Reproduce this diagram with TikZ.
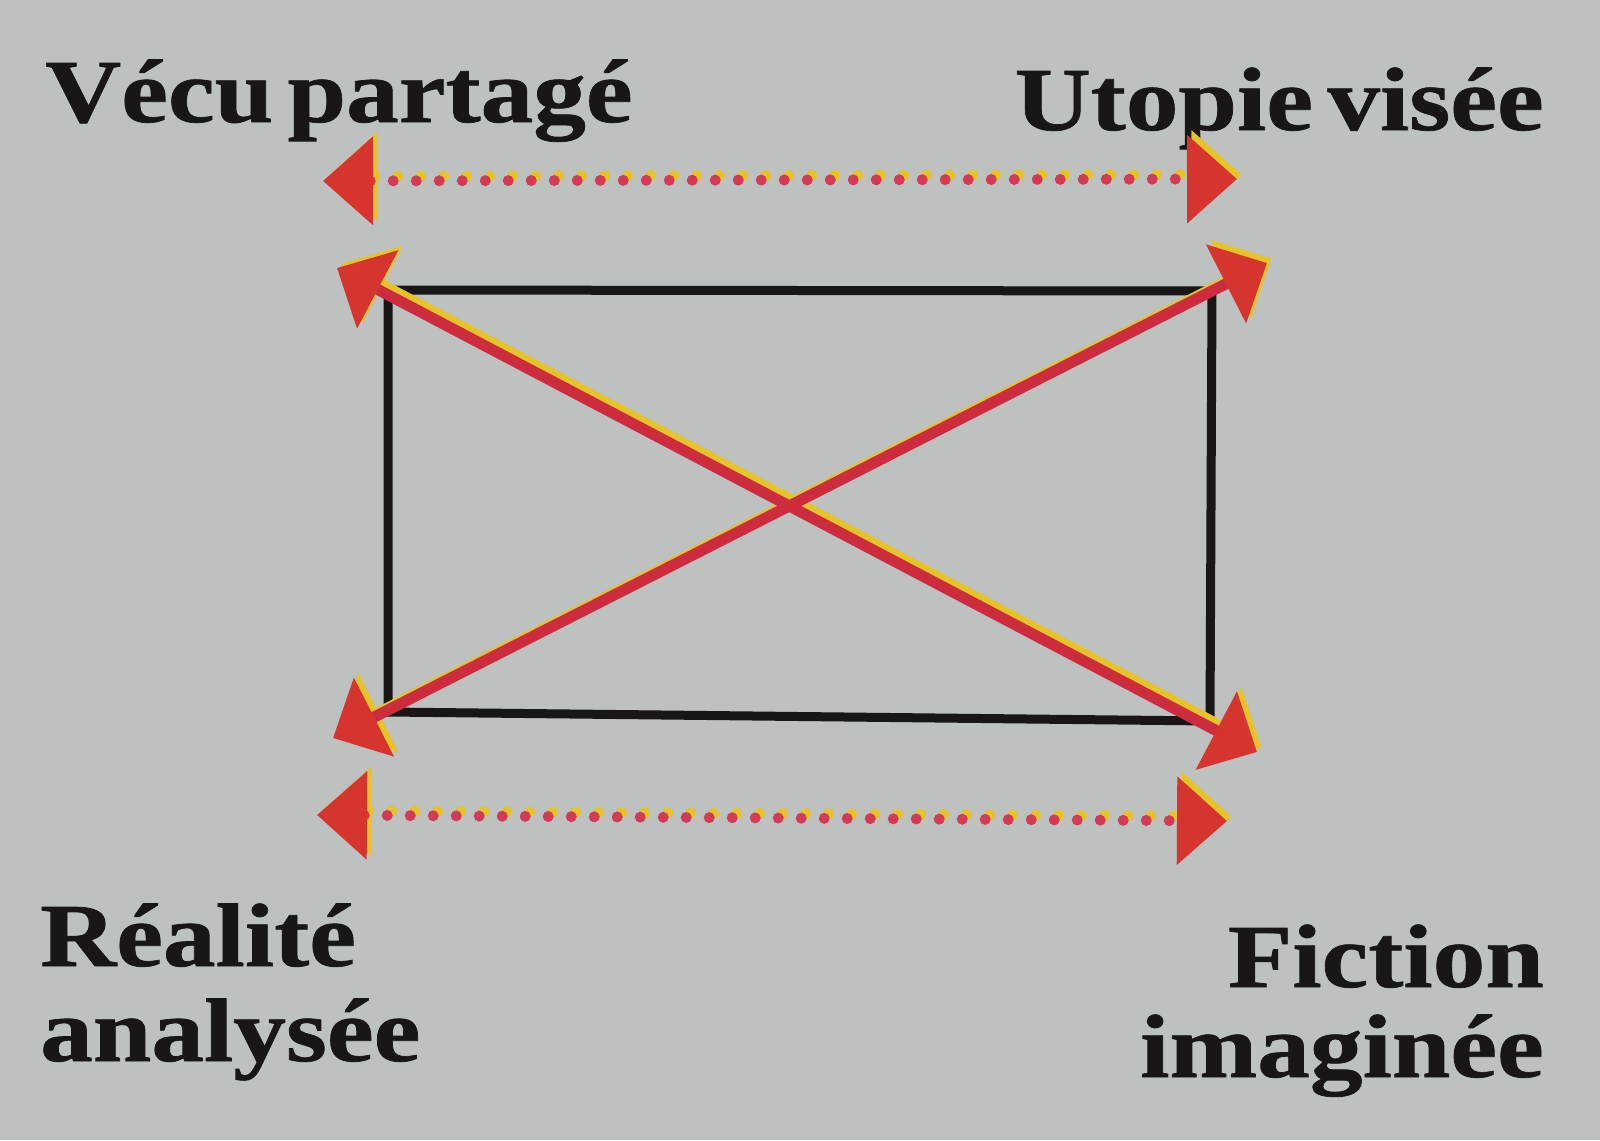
\documentclass[tikz,border=0pt]{standalone}
\usepackage{fontspec}
\setmainfont{Liberation Serif}
\newfontfamily\labfont[FakeStretch=1.17,FakeBold=0.8]{Liberation Serif}
\usetikzlibrary{arrows.meta}
\definecolor{bg}{RGB}{189,193,191}
\definecolor{arred}{RGB}{214,52,46}
\definecolor{lnred}{RGB}{204,44,62}
\definecolor{ylw}{RGB}{230,196,40}
\definecolor{dotred}{RGB}{210,58,86}
\definecolor{ink}{RGB}{24,22,22}
\newcommand\arrowlayer[3]{%
  \draw[line width=11pt, line cap=round, dash pattern=on 0pt off 23pt, draw=#3,
        {Triangle[length=50pt,width=86pt,color=#1]}-{Triangle[length=50pt,width=86pt,color=#1]}] (ta) -- (tb);
  \draw[line width=11pt, line cap=round, dash pattern=on 0pt off 23pt, draw=#3,
        {Triangle[length=50pt,width=86pt,color=#1]}-{Triangle[length=50pt,width=86pt,color=#1]}] (ba) -- (bb);
  \draw[line width=11pt, draw=#2,
        {Triangle[length=46pt,width=86pt,color=#1]}-{Triangle[length=46pt,width=86pt,color=#1]}] (d1a) -- (d1b);
  \draw[line width=11pt, draw=#2,
        {Triangle[length=46pt,width=86pt,color=#1]}-{Triangle[length=46pt,width=86pt,color=#1]}] (d2a) -- (d2b);
}
\begin{document}
\begin{tikzpicture}[x=1pt,y=-1pt,
  lab/.style={font=\labfont\bfseries\fontsize{90}{90}\selectfont, inner sep=0pt, text=ink},
  box/.style={line width=9pt, draw=ink, line join=miter}]
\fill[bg] (0,0) rectangle (1600,1140);
\useasboundingbox (0,0) rectangle (1600,1140);
% endpoints
\coordinate (ta) at (323,181);
\coordinate (tb) at (1237,179);
\coordinate (ba) at (317,815);
\coordinate (bb) at (1227,821);
\coordinate (r1) at (388,290);
\coordinate (r2) at (1212,291);
\coordinate (r3) at (1210,721);
\coordinate (r4) at (388,712);
\coordinate (d1a) at (337,268);
\coordinate (d1b) at (1257,752);
\coordinate (d2a) at (333,738);
\coordinate (d2b) at (1267,263);
% labels
\node[lab, anchor=base west] (vecu) at (45,122) {Vécu\hspace{0.16em}partagé};
\node[lab, anchor=base east] (utop) at (1544,130) {Utopie\hspace{0.16em}visée};
\node[lab, anchor=base west] (real1) at (40,966) {Réalité};
\node[lab, anchor=base west] (real2) at (40,1061) {analysée};
\node[lab, anchor=base east] (fict1) at (1544,987) {Fiction};
\node[lab, anchor=base east] (fict2) at (1544,1077) {imaginée};
% rectangle
\draw[box] (r1) -- (r2) -- (r3) -- (r4) -- cycle;
% misregistered yellow layer, then red
\begin{scope}[transform canvas={shift={(4.5pt,4.5pt)}}]
  \arrowlayer{ylw}{ylw}{ylw}
\end{scope}
\arrowlayer{arred}{lnred}{dotred}
\end{tikzpicture}
\end{document}
